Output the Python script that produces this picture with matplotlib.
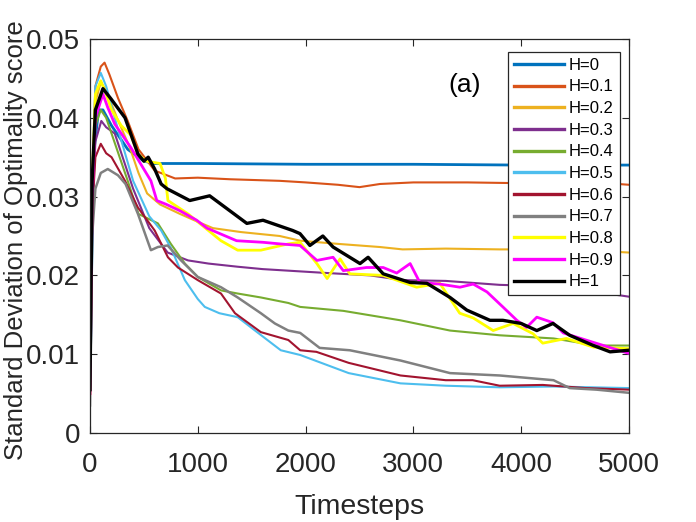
import numpy as np
import matplotlib
matplotlib.use("Agg")
import matplotlib.pyplot as plt

plt.rcParams.update({
    'font.family': ['Liberation Sans', 'DejaVu Sans'],
    'axes.linewidth': 0.9,
    'axes.edgecolor': '#262626',
    'xtick.color': '#262626',
    'ytick.color': '#262626',
})

# Datos (timestep, desviacion estandar)
t_h00 = [0, 30, 80, 120, 200, 350, 500, 600, 1000, 2000, 3000, 4000, 5000]
v_h00 = [0.0055, 0.035, 0.041, 0.041, 0.039, 0.036, 0.0345, 0.0342, 0.0342, 0.0341, 0.0341, 0.0340, 0.0340]

t_h01 = [0, 20, 50, 100, 135, 180, 260, 350, 450, 600, 790, 1000, 1300, 1760, 2000, 2300, 2500, 2690, 3000,
         3500, 4000, 4400, 4700, 5000]
v_h01 = [0.0055, 0.030, 0.044, 0.0465, 0.0470, 0.0455, 0.0425, 0.0396, 0.036, 0.0333, 0.0323, 0.0324, 0.0322,
         0.0320, 0.0318, 0.0315, 0.0312, 0.0316, 0.0318, 0.0318, 0.0317, 0.0316, 0.0318, 0.0315]

t_h02 = [0, 20, 50, 100, 150, 250, 370, 450, 530, 650, 835, 1000, 1140, 1400, 1760, 1950, 2300, 2690, 2900,
         3300, 3800, 4200, 4600, 5000]
v_h02 = [0.005, 0.030, 0.042, 0.0445, 0.0435, 0.040, 0.0362, 0.033, 0.0304, 0.0290, 0.0278, 0.0268, 0.0260,
         0.0255, 0.0250, 0.0244, 0.0240, 0.0236, 0.0233, 0.0234, 0.0233, 0.0233, 0.0232, 0.0229]

t_h03 = [0, 20, 50, 105, 150, 230, 400, 550, 720, 910, 1100, 1370, 1600, 1840, 2200, 2600, 2900, 3300, 3800,
         4050, 4500, 4800, 5000]
v_h03 = [0.005, 0.028, 0.037, 0.0396, 0.0388, 0.038, 0.031, 0.026, 0.0229, 0.0219, 0.0215, 0.0211, 0.0208,
         0.0206, 0.0203, 0.0200, 0.0194, 0.0193, 0.0188, 0.0187, 0.0182, 0.0177, 0.0173]

t_h04 = [0, 20, 50, 100, 150, 250, 350, 450, 630, 750, 880, 1000, 1215, 1370, 1585, 1840, 1950, 2350, 2880,
         3340, 3800, 4300, 4700, 5000]
v_h04 = [0.005, 0.030, 0.039, 0.041, 0.040, 0.036, 0.032, 0.0278, 0.0266, 0.024, 0.0215, 0.0198, 0.0181,
         0.0177, 0.0172, 0.0165, 0.0160, 0.0155, 0.0143, 0.0130, 0.0124, 0.0120, 0.0111, 0.0111]

t_h05 = [0, 20, 50, 100, 150, 250, 400, 550, 660, 750, 880, 1000, 1065, 1200, 1370, 1550, 1770, 1950, 2400,
         2880, 3300, 3800, 4300, 5000]
v_h05 = [0.005, 0.032, 0.044, 0.0457, 0.044, 0.039, 0.032, 0.0275, 0.0257, 0.0235, 0.0194, 0.0170, 0.0160,
         0.0152, 0.0147, 0.0128, 0.0105, 0.0099, 0.0076, 0.0063, 0.0060, 0.0058, 0.0059, 0.0057]

t_h06 = [0, 20, 50, 100, 150, 200, 325, 445, 600, 723, 816, 1000, 1215, 1345, 1585, 1840, 1950, 2100, 2400,
         2880, 3300, 3550, 3800, 4200, 4600, 5000]
v_h06 = [0.005, 0.028, 0.035, 0.0367, 0.0355, 0.035, 0.032, 0.0286, 0.0257, 0.0223, 0.0210, 0.0194, 0.0177,
         0.0152, 0.0128, 0.0118, 0.0105, 0.0103, 0.0089, 0.0073, 0.0067, 0.0067, 0.0060, 0.0061, 0.0057, 0.0055]

t_h07 = [0, 20, 50, 100, 165, 260, 330, 445, 565, 630, 720, 845, 1000, 1215, 1370, 1585, 1715, 1840, 1950,
         2130, 2410, 2880, 3340, 3800, 4300, 4450, 4700, 5000]
v_h07 = [0.0035, 0.025, 0.031, 0.0330, 0.0335, 0.0327, 0.0316, 0.0278, 0.0232, 0.0236, 0.0238, 0.0219, 0.0198,
         0.0185, 0.0172, 0.0152, 0.0139, 0.0130, 0.0127, 0.0108, 0.0105, 0.0092, 0.0076, 0.0073, 0.0067, 0.0057,
         0.0055, 0.0051]

t_h08 = [0, 20, 50, 100, 150, 200, 290, 380, 445, 520, 650, 700, 723, 910, 1215, 1370, 1585, 1840, 1948, 2105,
         2200, 2320, 2410, 2720, 3030, 3245, 3430, 3555, 3740, 3925, 4110, 4200, 4420, 4670, 5000]
v_h08 = [0.005, 0.032, 0.043, 0.0447, 0.043, 0.041, 0.039, 0.0378, 0.0354, 0.0345, 0.0342, 0.0323, 0.0295,
         0.0278, 0.0244, 0.0232, 0.0232, 0.0240, 0.0242, 0.0215, 0.0196, 0.0221, 0.0202, 0.0200, 0.0185, 0.0190,
         0.0152, 0.0146, 0.0130, 0.0139, 0.0126, 0.0114, 0.0120, 0.0109, 0.0107]

t_h09 = [0, 20, 50, 120, 165, 230, 290, 380, 490, 565, 620, 710, 835, 990, 1085, 1205, 1360, 1605, 1760, 1948,
         2105, 2255, 2350, 2565, 2720, 2845, 2970, 3060, 3245, 3432, 3555, 3683, 3830, 3960, 4050, 4145, 4295,
         4390, 4670, 5000]
v_h09 = [0.005, 0.030, 0.040, 0.043, 0.0413, 0.0392, 0.038, 0.0362, 0.0337, 0.032, 0.0295, 0.0290, 0.0282,
         0.0270, 0.026, 0.0253, 0.0244, 0.0242, 0.0240, 0.0238, 0.0219, 0.0223, 0.0206, 0.0210, 0.0210, 0.0203,
         0.0215, 0.0191, 0.0189, 0.0185, 0.0189, 0.0179, 0.0160, 0.0143, 0.0134, 0.0147, 0.0140, 0.0127, 0.0115,
         0.0101]

t_h10 = [0, 20, 50, 120, 195, 325, 445, 500, 540, 600, 660, 714, 925, 1110, 1455, 1605, 1880, 1948, 2040,
         2160, 2255, 2505, 2580, 2720, 2970, 3125, 3340, 3495, 3710, 3830, 4000, 4145, 4295, 4450, 4670, 4825,
         5000]
v_h10 = [0.0055, 0.032, 0.041, 0.0437, 0.0424, 0.040, 0.0354, 0.0345, 0.035, 0.0335, 0.0316, 0.031, 0.0295,
         0.0301, 0.0266, 0.0270, 0.0257, 0.0253, 0.0238, 0.0250, 0.0236, 0.0215, 0.0223, 0.0202, 0.0191, 0.0190,
         0.0172, 0.0156, 0.0143, 0.0143, 0.0139, 0.0130, 0.0139, 0.0124, 0.0111, 0.0103, 0.0105]

series = [
    ('H=0', t_h00, v_h00, '#0072BD', 2.0),
    ('H=0.1', t_h01, v_h01, '#D95319', 1.5),
    ('H=0.2', t_h02, v_h02, '#EDB120', 1.5),
    ('H=0.3', t_h03, v_h03, '#7E2F8E', 1.5),
    ('H=0.4', t_h04, v_h04, '#77AC30', 1.5),
    ('H=0.5', t_h05, v_h05, '#4DBEEE', 1.5),
    ('H=0.6', t_h06, v_h06, '#A2142F', 1.5),
    ('H=0.7', t_h07, v_h07, '#808080', 1.8),
    ('H=0.8', t_h08, v_h08, '#FFFF00', 2.0),
    ('H=0.9', t_h09, v_h09, '#FF00FF', 2.0),
    ('H=1', t_h10, v_h10, '#000000', 2.4),
]

fig = plt.figure(figsize=(6.96, 5.22), dpi=100)
ax = fig.add_axes([0.1293, 0.1705, 0.7744, 0.7548])

for nombre, t, v, color, lw in series:
    ax.plot(t, v, color=color, lw=lw, label=nombre)

ax.set_xlim(0, 5000)
ax.set_ylim(0, 0.05)
ax.set_xticks([0, 1000, 2000, 3000, 4000, 5000])
ax.set_yticks([0, 0.01, 0.02, 0.03, 0.04, 0.05])
ax.set_yticklabels(['0', '0.01', '0.02', '0.03', '0.04', '0.05'])
ax.tick_params(direction='in', length=5, width=0.8, top=True, right=True, labelsize=20)
ax.tick_params(axis='x', pad=14)
ax.tick_params(axis='y', pad=7)

ax.set_xlabel('Timesteps', fontsize=20.5, color='#262626')
ax.set_ylabel('Standard Deviation of Optimality score', fontsize=18.5, color='#262626')
ax.xaxis.set_label_coords(0.5, -0.155)
ax.yaxis.set_label_coords(-0.115, 0.49)

ax.text(0.696, 0.883, '(a)', transform=ax.transAxes, fontsize=19, ha='center', va='center')

leg = ax.legend(loc='upper left', bbox_to_anchor=(0.7755, 0.967), borderaxespad=0,
                fontsize=12, handlelength=3.0, handletextpad=0.3, labelspacing=0.4,
                borderpad=0.35, fancybox=False, framealpha=1, edgecolor='#262626')
leg.get_frame().set_linewidth(0.9)
for linea in leg.get_lines():
    linea.set_linewidth(2.4)

fig.savefig('out.png', dpi=100)
